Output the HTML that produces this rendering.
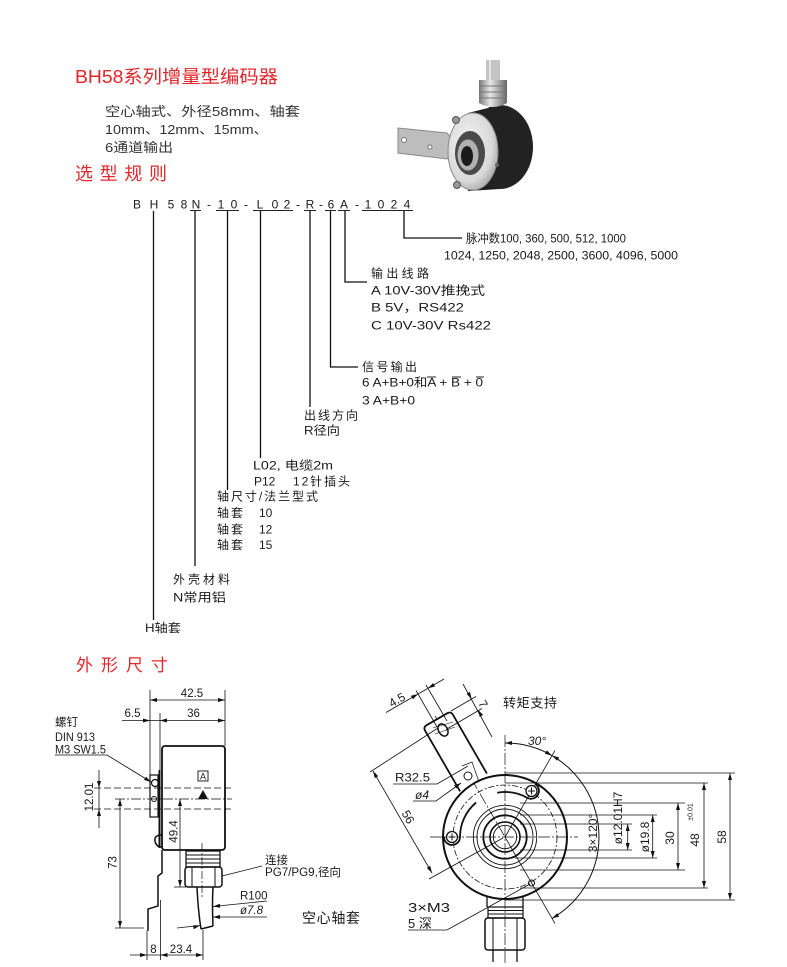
<!DOCTYPE html>
<html><head><meta charset="utf-8">
<style>
html,body{margin:0;padding:0;background:#fff;}
svg{display:block;}
text{font-family:"Liberation Sans","Noto Sans CJK SC",sans-serif;fill:#1a1a1a;}
.r{fill:#e3262a;}
.d{fill:#333;}
</style></head><body>
<svg width="787" height="967" viewBox="0 0 787 967" xmlns="http://www.w3.org/2000/svg">
<defs>
<radialGradient id="sil" cx="0.4" cy="0.4" r="0.7"><stop offset="0" stop-color="#f4f4f4"/><stop offset="0.7" stop-color="#d8d8d8"/><stop offset="1" stop-color="#9a9a9a"/></radialGradient>
<linearGradient id="gl" x1="0" x2="1"><stop offset="0" stop-color="#777"/><stop offset="0.4" stop-color="#e8e8e8"/><stop offset="1" stop-color="#666"/></linearGradient>
</defs>

<!-- Headings -->
<text class="r" x="75" y="83" font-size="18" textLength="203" lengthAdjust="spacingAndGlyphs">BH58系列增量型编码器</text>
<text class="d" x="105" y="116" font-size="13" textLength="195" lengthAdjust="spacingAndGlyphs">空心轴式、外径58mm、轴套</text>
<text class="d" x="105" y="134" font-size="13" textLength="163" lengthAdjust="spacingAndGlyphs">10mm、12mm、15mm、</text>
<text class="d" x="105" y="152" font-size="13" textLength="68" lengthAdjust="spacingAndGlyphs">6通道输出</text>
<text class="r" x="75" y="180" font-size="18" textLength="92" lengthAdjust="spacing">选型规则</text>
<text class="r" x="76" y="671" font-size="17" textLength="92" lengthAdjust="spacing">外形尺寸</text>

<!-- Photo -->
<g>
<rect x="486" y="60" width="14" height="22" fill="#c4c4c4"/>
<line x1="490" y1="60" x2="490" y2="82" stroke="#e6e6e6" stroke-width="2"/>
<path d="M468,113 L500,105 L500,189 L468,191 Z" fill="#1c1c1c"/>
<ellipse cx="500" cy="147" rx="33" ry="42" fill="#222"/>
<path d="M479,80 H507 V103 Q493,111 479,103 Z" fill="url(#gl)"/>
<g stroke="#777" stroke-width="1"><line x1="479" y1="86" x2="507" y2="86"/><line x1="479" y1="92" x2="507" y2="92"/><line x1="479" y1="98" x2="507" y2="98"/></g>
<path d="M398,128 L447,133 L452,139 L452,153 L447,159 L398,153 Z" fill="#bdbdbd" stroke="#8a8a8a"/>
<circle cx="404" cy="140" r="2.5" fill="#fff" stroke="#777"/>
<circle cx="430" cy="147" r="2" fill="#fff" stroke="#777"/>
<ellipse cx="473" cy="151.5" rx="25" ry="38.5" fill="url(#sil)" stroke="#8a8a8a"/>
<ellipse cx="470" cy="153" rx="15" ry="22" fill="#4a4a4a"/>
<ellipse cx="468" cy="155" rx="10.5" ry="15.5" fill="#b0b0b0"/>
<ellipse cx="467" cy="156" rx="6" ry="10" fill="#1a1a1a"/>
<circle cx="456" cy="120" r="3.5" fill="#999" stroke="#555"/>
<circle cx="457" cy="185" r="3.5" fill="#999" stroke="#555"/>
<circle cx="497" cy="165" r="2" fill="#666"/>
</g>

<!-- Code line -->
<g font-size="12" text-anchor="middle">
<text x="137" y="208.5">B</text><text x="154" y="208.5">H</text><text x="171" y="208.5">5</text><text x="184" y="208.5">8</text>
<text x="196" y="208.5">N</text><text x="209" y="208.5">-</text><text x="221" y="208.5">1</text><text x="234" y="208.5">0</text>
<text x="246" y="208.5">-</text><text x="260" y="208.5">L</text><text x="275" y="208.5">0</text><text x="287" y="208.5">2</text>
<text x="298" y="208.5">-</text><text x="310" y="208.5">R</text><text x="321" y="208.5">-</text><text x="331" y="208.5">6</text>
<text x="344" y="208.5">A</text><text x="357" y="208.5">-</text><text x="368" y="208.5">1</text><text x="381" y="208.5">0</text>
<text x="394" y="208.5">2</text><text x="407" y="208.5">4</text>
</g>
<g stroke="#222" stroke-width="1">
<line x1="190" y1="210.5" x2="201" y2="210.5"/>
<line x1="216" y1="210.5" x2="239" y2="210.5"/>
<line x1="253" y1="210.5" x2="293" y2="210.5"/>
<line x1="304" y1="210.5" x2="316" y2="210.5"/>
<line x1="325" y1="210.5" x2="336" y2="210.5"/>
<line x1="338" y1="210.5" x2="350" y2="210.5"/>
<line x1="362" y1="210.5" x2="413" y2="210.5"/>
</g>
<g stroke="#111" stroke-width="1.3" fill="none">
<line x1="153.5" y1="211" x2="153.5" y2="620"/>
<line x1="195" y1="211" x2="195" y2="566"/>
<line x1="227.5" y1="211" x2="227.5" y2="490"/>
<line x1="260.5" y1="211" x2="260.5" y2="458"/>
<line x1="310" y1="211" x2="310" y2="407"/>
<polyline points="330.5,211 330.5,367 358,367"/>
<polyline points="345,211 345,282 367,282"/>
<polyline points="404,211 404,238 462,238"/>
</g>

<!-- Tree labels -->
<g font-size="12">
<text x="466" y="242.5" textLength="160" lengthAdjust="spacingAndGlyphs">脉冲数100, 360, 500, 512, 1000</text>
<text x="444" y="259.5" textLength="234" lengthAdjust="spacingAndGlyphs">1024, 1250, 2048, 2500, 3600, 4096, 5000</text>
<text x="371" y="277.5" textLength="58" lengthAdjust="spacing">输出线路</text>
<text x="371" y="294.5" textLength="114" lengthAdjust="spacingAndGlyphs">A  10V-30V推挽式</text>
<text x="371" y="311.5" textLength="93" lengthAdjust="spacingAndGlyphs">B  5V，RS422</text>
<text x="371" y="329.5" textLength="120" lengthAdjust="spacingAndGlyphs">C  10V-30V Rs422</text>
<text x="362" y="371" textLength="55" lengthAdjust="spacing">信号输出</text>
<text x="362" y="386.5" textLength="121" lengthAdjust="spacingAndGlyphs">6 A+B+0和A + B + 0</text>
<text x="362" y="404.5" textLength="53" lengthAdjust="spacingAndGlyphs">3 A+B+0</text>
<text x="304" y="419.5" textLength="54" lengthAdjust="spacing">出线方向</text>
<text x="304" y="434.5" textLength="36" lengthAdjust="spacingAndGlyphs">R径向</text>
<text x="253" y="469.5" textLength="80" lengthAdjust="spacingAndGlyphs">L02, 电缆2m</text>
<text x="254" y="485.5">P12</text>
<text x="293" y="485.5" textLength="57" lengthAdjust="spacing">12针插头</text>
<text x="217" y="500.5" textLength="101" lengthAdjust="spacing">轴尺寸/法兰型式</text>
<text x="217" y="517" textLength="26" lengthAdjust="spacing">轴套</text><text x="259" y="517">10</text>
<text x="217" y="533.5" textLength="26" lengthAdjust="spacing">轴套</text><text x="259" y="533.5">12</text>
<text x="217" y="549" textLength="26" lengthAdjust="spacing">轴套</text><text x="259" y="549">15</text>
<text x="173" y="583.5" textLength="57" lengthAdjust="spacing">外壳材料</text>
<text x="173" y="601.5" textLength="53" lengthAdjust="spacingAndGlyphs">N常用铝</text>
<text x="145" y="632" textLength="36" lengthAdjust="spacingAndGlyphs">H轴套</text>
</g>
<g stroke="#222" stroke-width="1">
<line x1="427" y1="377" x2="436" y2="377"/>
<line x1="452" y1="377" x2="461" y2="377"/>
<line x1="476" y1="377" x2="484" y2="377"/>
</g>

<!-- LEFT DRAWING -->
<g stroke="#111" fill="none">
<rect x="162" y="746" width="63" height="104" rx="3" stroke-width="1.8"/>
<rect x="186" y="851" width="34" height="16" stroke-width="1.3"/>
<line x1="186" y1="855" x2="220" y2="855" stroke-width="1"/>
<line x1="186" y1="859" x2="220" y2="859" stroke-width="1"/>
<line x1="186" y1="863" x2="220" y2="863" stroke-width="1"/>
<rect x="185" y="867" width="37" height="20" rx="3" stroke-width="1.5"/>
<line x1="192" y1="867" x2="192" y2="887" stroke-width="1"/>
<line x1="215" y1="867" x2="215" y2="887" stroke-width="1"/>
<path d="M197,887 Q198,910 201,929 M213,887 Q212,905 213,926 M201,929 L213,926" stroke-width="1.5"/>
<line x1="202" y1="843" x2="202" y2="897" stroke-width="0.7" stroke-dasharray="8,2,2,2"/>
<rect x="150" y="775" width="8" height="42" stroke-width="1.2"/>
<line x1="159.5" y1="770" x2="159.5" y2="848" stroke-width="2"/>
<circle cx="155" cy="783" r="3.5" stroke-width="1.2"/>
<circle cx="154" cy="799" r="2.5" stroke-width="1"/>
<path d="M162,835 Q154,835 155,841 Q156,847 162,847" stroke-width="1.5"/>
<polyline points="162,850 162,873 158,876 158,906 148,909 148,931" stroke-width="1.5"/>
<g stroke-width="0.8">
<line x1="150" y1="690" x2="150" y2="775"/>
<line x1="225" y1="690" x2="225" y2="746"/>
<line x1="160" y1="713" x2="160" y2="770"/>
<line x1="94" y1="788" x2="232" y2="788" stroke-dasharray="7,3"/>
<line x1="94" y1="809" x2="232" y2="809" stroke-dasharray="7,3"/>
<line x1="115" y1="799" x2="232" y2="799" stroke-dasharray="10,2,2,2"/>
<line x1="115" y1="928" x2="144" y2="928"/>
<line x1="174" y1="887" x2="186" y2="887"/>
<line x1="147" y1="931" x2="147" y2="960"/>
<line x1="160.5" y1="900" x2="160.5" y2="960"/>
<line x1="203" y1="930" x2="203" y2="960"/>
<line x1="150" y1="700" x2="225" y2="700"/>
<line x1="122" y1="720.5" x2="225" y2="720.5"/>
<line x1="99" y1="770" x2="99" y2="828"/>
<line x1="120" y1="799" x2="120" y2="928"/>
<line x1="180" y1="799" x2="180" y2="887"/>
<line x1="130" y1="955" x2="203" y2="955"/>
<polyline points="55,755 107,755 151,782"/>
<line x1="222" y1="876" x2="262" y2="866"/>
<line x1="267" y1="901" x2="213" y2="906.5"/>
<line x1="213" y1="917" x2="267" y2="917"/>
<line x1="177" y1="928" x2="200" y2="925.5"/>
</g>
</g>
<g fill="#111">
<polygon points="150,700 157,698 157,702"/>
<polygon points="225,700 218,698 218,702"/>
<polygon points="160,720.5 167,718.5 167,722.5"/>
<polygon points="225,720.5 218,718.5 218,722.5"/>
<polygon points="150,720.5 143,718.5 143,722.5"/>
<polygon points="99,788 97,781 101,781"/>
<polygon points="99,809 97,816 101,816"/>
<polygon points="120,799 118,806 122,806"/>
<polygon points="120,928 118,921 122,921"/>
<polygon points="180,799 178,806 182,806"/>
<polygon points="180,887 178,880 182,880"/>
<polygon points="147,955 140,953 140,957"/>
<polygon points="160.5,955 167.5,953 167.5,957"/>
<polygon points="203,955 196,953 196,957"/>
<polygon points="151,782 144,780 146,776.6"/>
<polygon points="213,906.5 219.8,903.8 220.2,907.8"/>
<polygon points="213,917 220,915 220,919"/>
<polygon points="200,925.5 193.2,925.3 193.7,929.2"/>
<polygon points="203,790 198,799 208,799"/>
</g>
<rect x="198" y="771" width="10" height="10" fill="none" stroke="#111" stroke-width="0.9"/>
<text x="203" y="779.5" font-size="9" text-anchor="middle">A</text>
<g font-size="11.5">
<text x="192" y="697" text-anchor="middle">42.5</text>
<text x="193.5" y="717" text-anchor="middle">36</text>
<text x="132.5" y="717" text-anchor="middle">6.5</text>
<text x="55" y="726">螺钉</text>
<text x="55" y="741" textLength="40" lengthAdjust="spacingAndGlyphs">DIN 913</text>
<text x="55" y="753.5" textLength="51" lengthAdjust="spacingAndGlyphs">M3 SW1.5</text>
<text transform="translate(89,797) rotate(-90)" text-anchor="middle" dy="4">12.01</text>
<text transform="translate(112.5,862.5) rotate(-90)" text-anchor="middle" dy="4">73</text>
<text transform="translate(173.5,831.5) rotate(-90)" text-anchor="middle" dy="4">49.4</text>
<text x="153.5" y="953" text-anchor="middle">8</text>
<text x="181" y="953" text-anchor="middle">23.4</text>
<text x="265" y="864">连接</text>
<text x="265" y="876" textLength="76" lengthAdjust="spacingAndGlyphs">PG7/PG9,径向</text>
<text x="240" y="899.5">R100</text>
<text x="240" y="914" font-style="italic">ø7.8</text>
</g>
<text x="302" y="923" font-size="14" textLength="58" lengthAdjust="spacing">空心轴套</text>

<!-- RIGHT DRAWING -->
<g stroke="#111" fill="none">
<line x1="505" y1="735" x2="505" y2="965" stroke-width="0.7" stroke-dasharray="12,2,2,2"/>
<line x1="430" y1="837" x2="578" y2="837" stroke-width="0.7" stroke-dasharray="12,2,2,2"/>
<line x1="435" y1="715.8" x2="505" y2="837" stroke-width="0.7" stroke-dasharray="12,2,2,2"/>
<line x1="505" y1="837" x2="555" y2="923.6" stroke-width="0.8"/>
<line x1="505" y1="837" x2="555" y2="750.4" stroke-width="0.8"/>
<circle cx="505" cy="837" r="52" stroke-width="0.8" stroke-dasharray="6,2,2,2"/>
<circle cx="505" cy="837" r="31.7" stroke-width="0.9"/>
<circle cx="505" cy="837" r="28" stroke-width="0.9"/>
<circle cx="505" cy="837" r="21.7" stroke-width="1.8"/>
<circle cx="505" cy="837" r="15" stroke-width="1.6"/>
<circle cx="505" cy="837" r="11.7" stroke-width="0.9"/>
<circle cx="505" cy="837" r="62" stroke-width="2"/>
<path d="M486.9,773.6 L452.9,714.7 Q450.9,711.2 447.4,713.2 L426.6,725.2 Q423.1,727.2 425.1,730.7 L460.1,791.3" stroke-width="1.8" fill="#fff"/>
<ellipse cx="443" cy="730" rx="4.5" ry="6.5" transform="rotate(-30 443 730)" stroke-width="1.5"/>
<line x1="433" y1="728" x2="453" y2="722" stroke-width="0.6"/>
<line x1="435" y1="734" x2="455" y2="727" stroke-width="0.6"/>
<path d="M497.2,792.7 A45,45 0 0 1 527.5,798 A8,8 0 0 0 535.5,784.2" stroke-width="1.8"/>
<path d="M476.1,802.5 A45,45 0 0 0 460,837 A8,8 0 0 1 444,837" stroke-width="1.8"/>
<circle cx="531.5" cy="791" r="5.5" stroke-width="1.3" fill="#fff"/>
<path d="M528,791 H535 M531.5,787.5 V794.5" stroke-width="1"/>
<circle cx="452" cy="837" r="5.5" stroke-width="1.3" fill="#fff"/>
<path d="M448.5,837 H455.5 M452,833.5 V840.5" stroke-width="1"/>
<circle cx="531.5" cy="883" r="3" stroke-width="1"/>
<circle cx="468" cy="776" r="4" stroke-width="1"/>
<polyline points="462,766 472,762 479,782" stroke-width="0.7"/>
<path d="M487,897 V907 M523,897 V907" stroke-width="1.3"/>
<rect x="488" y="907" width="35" height="11" stroke-width="1.2"/>
<line x1="488" y1="910.5" x2="523" y2="910.5" stroke-width="0.9"/>
<line x1="488" y1="914" x2="523" y2="914" stroke-width="0.9"/>
<rect x="485" y="918" width="40" height="32" rx="3" stroke-width="1.5"/>
<line x1="493" y1="918" x2="493" y2="950" stroke-width="1"/>
<line x1="517" y1="918" x2="517" y2="950" stroke-width="1"/>
<path d="M493,950 V962 M517,950 V962" stroke-width="1.3"/>
<path d="M505,743 A94,94 0 0 1 552,755.6" stroke-width="1"/>
<path d="M552,755.6 A94,94 0 0 1 552,918.4" stroke-width="1"/>
<g stroke-width="0.8">
<line x1="505" y1="773" x2="735" y2="773"/>
<line x1="505" y1="783" x2="708" y2="783"/>
<line x1="520" y1="803" x2="685" y2="803"/>
<line x1="520" y1="815" x2="657" y2="815"/>
<line x1="520" y1="824" x2="632" y2="824"/>
<line x1="520" y1="850" x2="632" y2="850"/>
<line x1="515" y1="858" x2="657" y2="858"/>
<line x1="520" y1="870" x2="685" y2="870"/>
<line x1="520" y1="888" x2="708" y2="888"/>
<line x1="505" y1="900" x2="735" y2="900"/>
<line x1="627.7" y1="824" x2="627.7" y2="850"/>
<line x1="652.7" y1="815" x2="652.7" y2="858"/>
<line x1="678" y1="803" x2="678" y2="870"/>
<line x1="704" y1="783" x2="704" y2="888"/>
<line x1="730" y1="773" x2="730" y2="900"/>
<line x1="370" y1="772" x2="438" y2="728"/>
<line x1="429" y1="879" x2="503" y2="838"/>
<line x1="373" y1="771" x2="432" y2="873"/>
<line x1="386" y1="712.5" x2="444" y2="679"/>
<line x1="416" y1="690.5" x2="437" y2="727"/>
<line x1="426" y1="685" x2="447" y2="721"/>
<line x1="463" y1="684" x2="492" y2="737"/>
<line x1="451" y1="711" x2="476" y2="696.5"/>
<line x1="446" y1="729.5" x2="482" y2="708.5"/>
<polyline points="393,784 437,784 468,766"/>
<polyline points="413,801 436,801 461,783"/>
<polyline points="408,930 447,930 530,884"/>
</g>
</g>
<g fill="#111">
<polygon points="505,743 512,741 512,745"/>
<polygon points="552,755.6 544.9,753.8 546.9,750.4"/>
<polygon points="552,755.6 557.1,760.8 559.1,757.4"/>
<polygon points="552,918.4 557.1,913.2 559.1,916.6"/>
<polygon points="627.7,824 625.7,831 629.7,831"/>
<polygon points="627.7,850 625.7,843 629.7,843"/>
<polygon points="652.7,815 650.7,822 654.7,822"/>
<polygon points="652.7,858 650.7,851 654.7,851"/>
<polygon points="678,803 676,810 680,810"/>
<polygon points="678,870 676,863 680,863"/>
<polygon points="704,783 702,790 706,790"/>
<polygon points="704,888 702,881 706,881"/>
<polygon points="730,773 728,780 732,780"/>
<polygon points="730,900 728,893 732,893"/>
<polygon points="373,771 378.2,776.1 374.8,778.1"/>
<polygon points="432,873 430.2,865.9 426.8,867.9"/>
<polygon points="418,694 412.9,699.2 410.9,695.8"/>
<polygon points="428,688.25 435.1,686.5 433.1,683"/>
<polygon points="471.7,699 469.9,691.9 466.5,693.9"/>
<polygon points="477.9,709.8 483.1,714.9 479.7,716.9"/>
<polygon points="461,783 456.3,788.6 454.1,785.3"/>
</g>
<g font-size="12">
<text transform="translate(397,700) rotate(-30)" text-anchor="middle" dy="4">4.5</text>
<text transform="translate(483,704) rotate(60)" text-anchor="middle" dy="4">7</text>
<text x="503" y="707.5" font-size="13" textLength="54" lengthAdjust="spacing">转矩支持</text>
<text x="528" y="745" font-style="italic">30°</text>
<text x="395" y="781.5" textLength="35" lengthAdjust="spacingAndGlyphs">R32.5</text>
<text x="415" y="799" font-style="italic">ø4</text>
<text transform="translate(408,817) rotate(60)" text-anchor="middle" dy="4">56</text>
<text x="408" y="912" font-size="13" textLength="42" lengthAdjust="spacingAndGlyphs">3×M3</text>
<text x="408" y="928" font-size="13">5 深</text>
<text transform="translate(593,833) rotate(-90)" text-anchor="middle" dy="4">3×120°</text>
<text transform="translate(618,818) rotate(-90)" text-anchor="middle" dy="4">ø12.01H7</text>
<text transform="translate(645,837) rotate(-90)" text-anchor="middle" dy="4">ø19.8</text>
<text transform="translate(670,838) rotate(-90)" text-anchor="middle" dy="4">30</text>
<text transform="translate(695,840) rotate(-90)" text-anchor="middle" dy="4">48</text>
<text transform="translate(690,812) rotate(-90)" text-anchor="middle" dy="2.5" font-size="7">±0.01</text>
<text transform="translate(722,837) rotate(-90)" text-anchor="middle" dy="4">58</text>
</g>
</svg>
</body></html>
